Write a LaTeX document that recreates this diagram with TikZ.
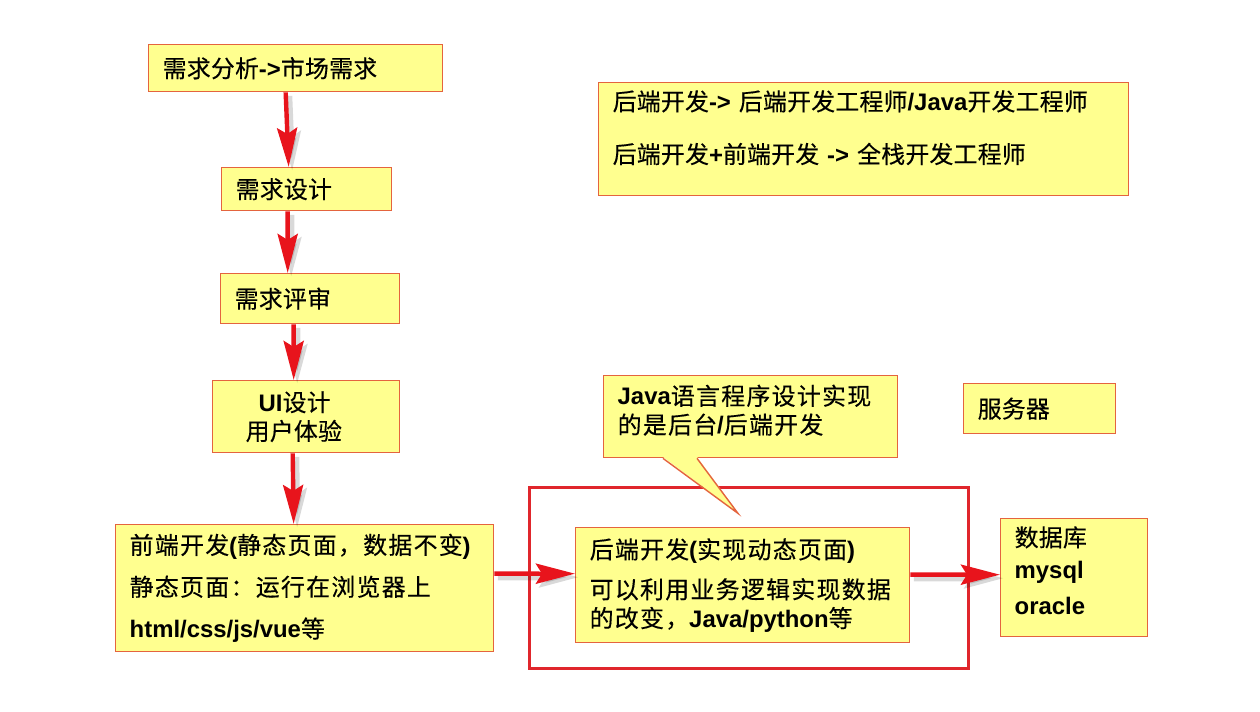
\documentclass[tikz,border=0pt]{standalone}
\usepackage{fontspec}
\setmainfont{Noto Sans CJK SC}[LetterSpace=1, FakeBold=0.3]
\newfontfamily\zhwide{Noto Sans CJK SC}[LetterSpace=5.5, FakeBold=0.3]
\newfontfamily\enfont{Liberation Sans}
\newcommand{\en}[1]{{\enfont\bfseries #1}}
\usepackage{tikz}
\usetikzlibrary{arrows.meta, calc}
\definecolor{pyellow}{HTML}{FFFF8F}
\definecolor{pedge}{HTML}{E4643E}
\definecolor{pred}{HTML}{E8141C}
\definecolor{pframe}{HTML}{E0262C}
\tikzset{
  box/.style={rectangle, draw=pedge, fill=pyellow, line width=0.8pt, anchor=north west,
              inner xsep=0.28cm, inner ysep=0pt, align=left,
              font=\fontsize{13.6pt}{16.4pt}\selectfont},
  wide/.style={font=\fontsize{13.6pt}{16.4pt}\selectfont\zhwide},
  outerbox/.style={rectangle, draw=pframe, line width=1.7pt, anchor=north west, inner sep=0pt},
  redflow/.style={-{Stealth[length=0.78cm, width=0.4cm, inset=0.12cm]}, draw=pred, line width=2.5pt,
                  preaction={draw=black, opacity=0.15, line width=3.5pt,
                             transform canvas={xshift=2pt, yshift=-2pt}}}
}
\begin{document}
\begin{tikzpicture}[x=0.02cm, y=-0.02cm]
  \useasboundingbox (0,0) rectangle (1260,712);
  % left column
  \node[box, text width=5.32cm, minimum height=0.94cm] (analyse) at (148,44) {需求分析\en{->}市场需求};
  \node[box, text width=2.84cm, minimum height=0.86cm] (design) at (221,167) {需求设计};
  \node[box, text width=3.02cm, minimum height=1.0cm] (review) at (220,273) {需求评审};
  \node[box, inner xsep=0.66cm, text width=2.42cm, minimum height=1.44cm] (ui) at (212,380)
    {\hspace*{0.26cm}\en{UI}设计\\用户体验};
  \node[box, wide, text width=7.0cm, minimum height=2.54cm] (front) at (115,524)
    {前端开发\en{(}静态页面，数据不变\en{)}\\[7.4pt]静态页面：运行在浏览器上\\[7.4pt]\en{html/css/js/vue}等};
  % right side
  \node[box, text width=10.04cm, minimum height=2.26cm] (roles) at (598,82)
    {后端开发\en{-> }后端开发工程师\en{/Java}开发工程师\\[13.6pt]后端开发\en{+}前端开发 \en{->} 全栈开发工程师\rule[-0.5cm]{0pt}{1pt}};
  \node[outerbox, minimum width=8.78cm, minimum height=3.62cm] (server) at (528,486) {};
  \node[box, wide, text width=5.32cm, minimum height=1.64cm] (note) at (603,375)
    {\en{Java}语言程序设计实现\\的是后台\en{/}后端开发\rule[-0.3cm]{0pt}{1pt}};
  \fill[pyellow] ($(note.south west)+(60,-1.5)$) -- ($(note.south west)+(94,-1.5)$)
    -- ($(note.south west)+(135,55)$) -- cycle;
  \draw[pedge, line width=0.8pt] ($(note.south west)+(60,0)$) -- ($(note.south west)+(135,55)$)
    -- ($(note.south west)+(94,0)$);
  \node[box, wide, text width=6.12cm, minimum height=2.3cm] (back) at (575,527)
    {后端开发\en{(}实现动态页面\en{)}\\[6.3pt]可以利用业务逻辑实现数据\\的改变，\en{Java/python}等};
  \node[box, text width=2.48cm, minimum height=1.0cm] (srvlabel) at (963,383) {服务器};
  \node[box, text width=2.38cm, minimum height=2.36cm] (db) at (1000,518)
    {数据库\\[1.7pt]\en{mysql}\\[4pt]\en{oracle}\rule[-0.3cm]{0pt}{1pt}};
  % arrows
  \draw[redflow] ([xshift=-0.2cm]analyse.south) -- ([xshift=-0.36cm]design.north);
  \draw[redflow] ([xshift=-0.38cm]design.south) -- ([xshift=-0.45cm]review.north);
  \draw[redflow] ([xshift=-0.33cm]review.south) -- ([xshift=-0.25cm]ui.north);
  \draw[redflow] ([xshift=-0.27cm]ui.south) -- ([xshift=-0.22cm]front.north);
  \draw[redflow] ([yshift=0.29cm]front.east) -- ([yshift=0.23cm]back.west);
  \draw[redflow] ([yshift=0.21cm]back.east) -- ([yshift=0.06cm]db.west);
\end{tikzpicture}
\end{document}
